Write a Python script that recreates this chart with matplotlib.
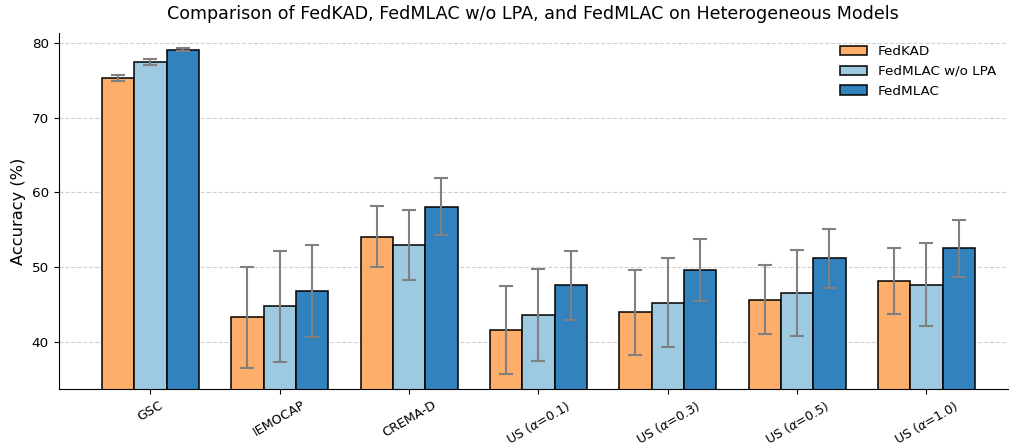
import matplotlib.pyplot as plt
import numpy as np

categories = ["GSC", "IEMOCAP", "CREMA-D", r"US ($\alpha$=0.1)", r"US ($\alpha$=0.3)",
              r"US ($\alpha$=0.5)", r"US ($\alpha$=1.0)"]

fedkad = [75.3, 43.3, 54.1, 41.6, 44.0, 45.65, 48.15]
fedkad_err = [0.4, 6.75, 4.05, 5.9, 5.7, 4.6, 4.4]

fedmlac_wo = [77.4, 44.8, 53.0, 43.65, 45.3, 46.55, 47.65]
fedmlac_wo_err = [0.4, 7.4, 4.65, 6.15, 5.95, 5.75, 5.55]

fedmlac = [79.1, 46.8, 58.1, 47.6, 49.6, 51.2, 52.55]
fedmlac_err = [0.25, 6.15, 3.8, 4.65, 4.15, 3.9, 3.8]

x = np.arange(len(categories))
width = 0.25

fig = plt.figure(figsize=(10.1, 4.47), dpi=100)
ax = fig.add_axes([0.058, 0.129, 0.94, 0.797])

err_kw = dict(ecolor="gray", elinewidth=1.5, capsize=5, capthick=1.5)
ax.bar(x - width, fedkad, width, yerr=fedkad_err, label="FedKAD",
       color="#fdae6b", edgecolor="black", linewidth=1.1, error_kw=err_kw)
ax.bar(x, fedmlac_wo, width, yerr=fedmlac_wo_err, label="FedMLAC w/o LPA",
       color="#9ecae1", edgecolor="black", linewidth=1.1, error_kw=err_kw)
ax.bar(x + width, fedmlac, width, yerr=fedmlac_err, label="FedMLAC",
       color="#3182bd", edgecolor="black", linewidth=1.1, error_kw=err_kw)

ax.set_xticks(x)
ax.set_xticklabels(categories, rotation=30, fontsize=9.2)
ax.tick_params(axis="x", pad=3)
ax.tick_params(axis="y", labelsize=9.7)
ax.set_ylabel("Accuracy (%)", fontsize=11.7)
ax.set_title("Comparison of FedKAD, FedMLAC w/o LPA, and FedMLAC on Heterogeneous Models",
             fontsize=12.6, pad=10)
ax.set_ylim(33.7, 81.3)
ax.set_xlim(-0.71, 6.63)
ax.set_yticks([40, 50, 60, 70, 80])
ax.grid(axis="y", linestyle="--", color="#cccccc", alpha=0.9)
ax.set_axisbelow(True)
ax.spines["top"].set_visible(False)
ax.spines["right"].set_visible(False)
ax.legend(loc="upper right", frameon=False, fontsize=9.7, bbox_to_anchor=(1.0, 1.0))

fig.savefig("out.png", dpi=100)
